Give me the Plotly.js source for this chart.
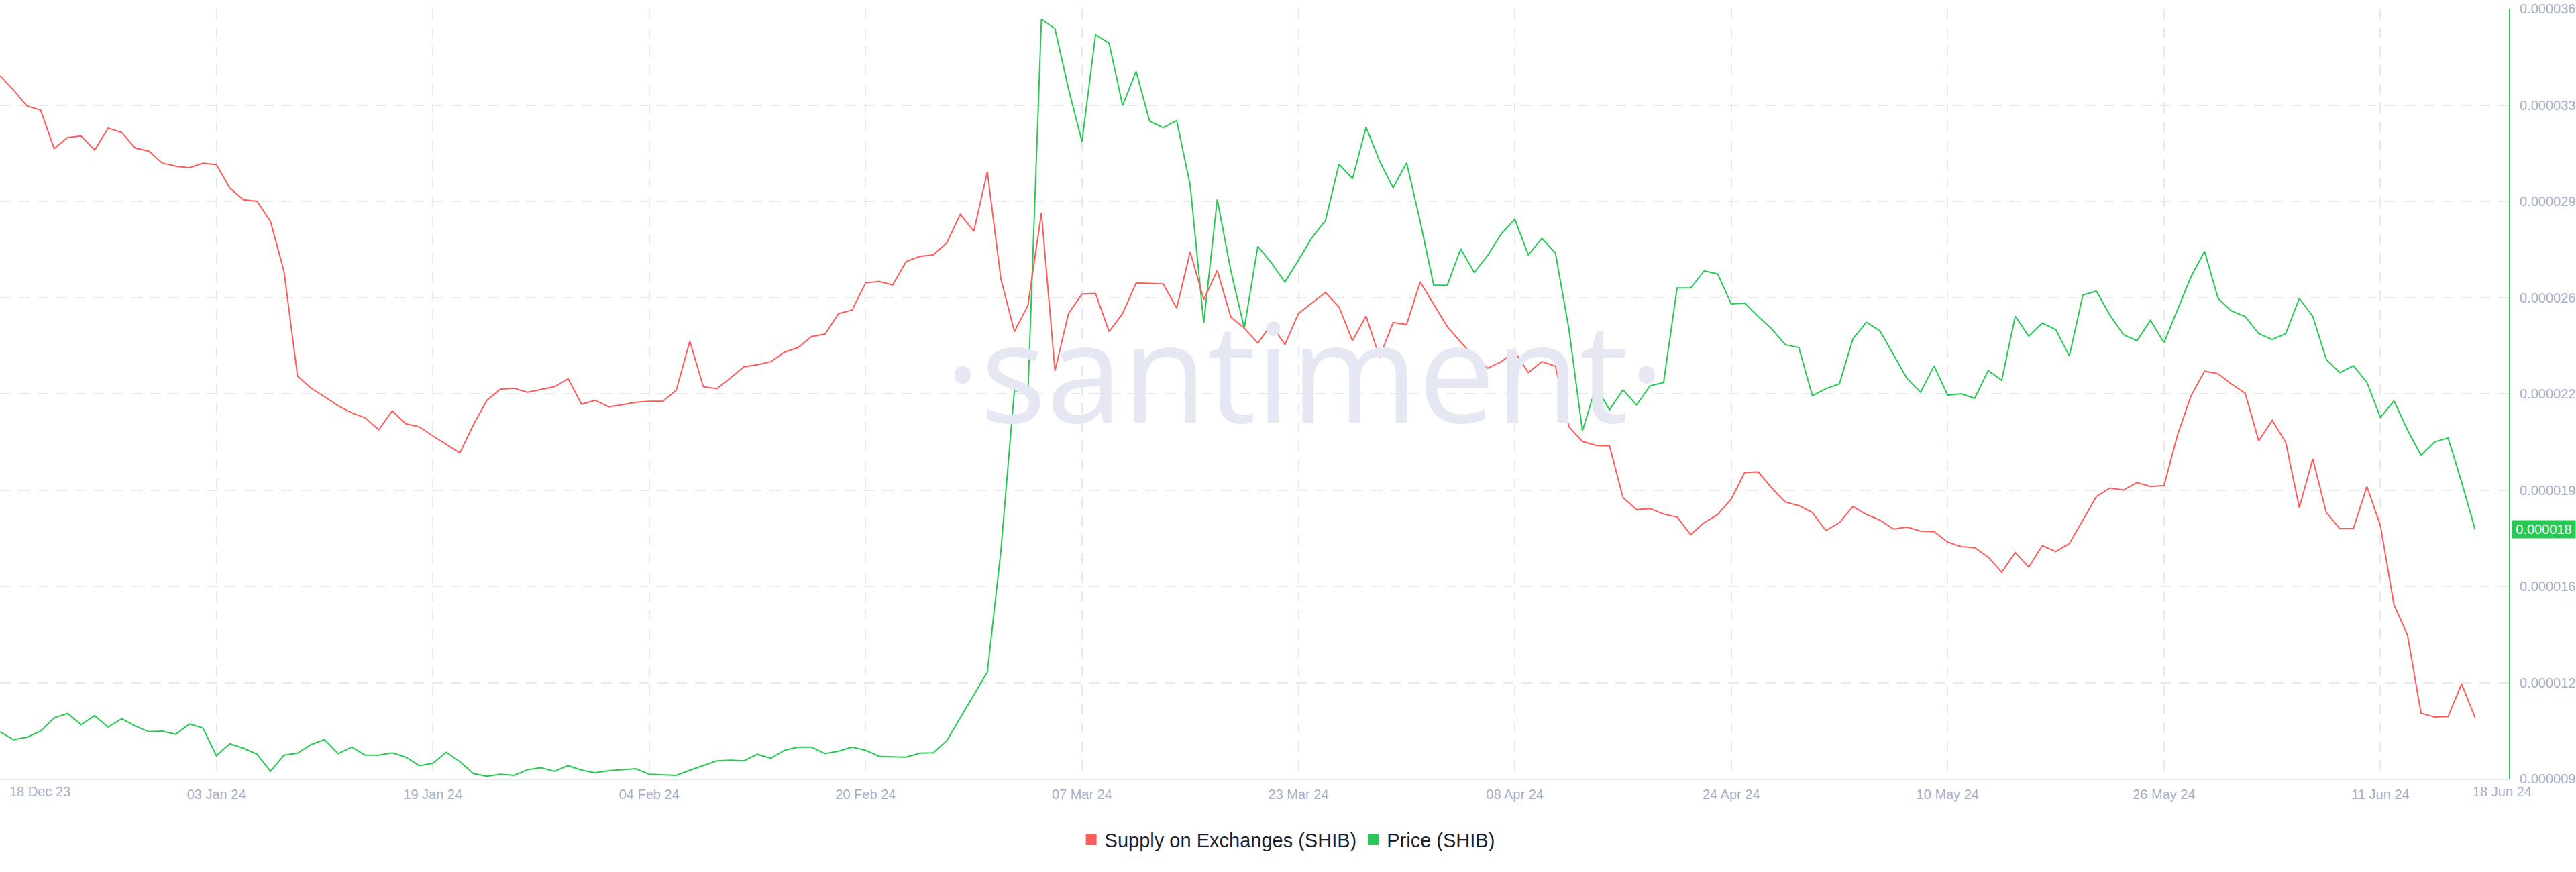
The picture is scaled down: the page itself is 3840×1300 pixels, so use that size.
<!DOCTYPE html>
<html><head><meta charset="utf-8">
<script src="https://cdn.plot.ly/plotly-3.0.1.min.js"></script>
<style>html,body{margin:0;padding:0;background:#fff;}#chart{width:3840px;height:1300px;}</style>
</head><body><div id="chart"></div>
<script>
// ---- data (daily, starting 18 Dec 2023) ----
const startDate = '2023-12-18';
const seriesNames = ['Supply on Exchanges (SHIB)', 'Price (SHIB)'];
const seriesColors = ['#ff5b5b', '#26c953'];

// Supply on Exchanges (hidden left axis, arbitrary units)
const supplyOnExchanges = [
156.08,154.96,153.68,153.36,150.28,151.16,151.28,150.16,151.92,151.56,
150.32,150.08,149.12,148.88,148.76,149.12,149.00,147.12,146.20,146.08,
144.48,140.48,132.12,131.16,130.48,129.76,129.20,128.80,127.84,129.36,
128.32,128.08,127.36,126.68,126.00,128.24,130.20,131.08,131.16,130.84,
131.08,131.28,131.92,129.88,130.20,129.68,129.84,130.04,130.12,130.12,
131.00,134.92,131.28,131.12,131.96,132.88,133.04,133.28,134.04,134.40,
135.28,135.48,137.12,137.40,139.56,139.68,139.40,141.28,141.68,141.80,
142.76,145.04,143.68,148.44,139.88,135.68,137.76,145.16,132.56,137.12,
138.68,138.72,135.68,137.12,139.56,139.52,139.48,137.56,142.04,138.24,
140.56,136.84,135.96,134.76,136.24,134.64,137.12,137.96,138.80,137.64,
134.96,136.92,133.64,136.40,136.24,139.64,137.88,136.08,134.84,133.64,
132.76,133.28,134.08,132.40,133.28,132.92,128.08,126.92,126.60,126.56,
122.44,121.48,121.56,121.12,120.88,119.48,120.44,121.08,122.32,124.44,
124.48,123.20,122.08,121.80,121.24,119.80,120.44,121.72,121.08,120.64,
119.92,120.08,119.76,119.72,118.88,118.52,118.44,117.68,116.48,118.04,
116.88,118.60,118.12,118.76,120.64,122.52,123.20,123.04,123.64,123.32,
123.40,127.44,130.56,132.52,132.32,131.48,130.76,126.96,128.60,126.84,
121.64,125.52,121.24,119.96,119.96,123.32,120.20,113.88,111.48,105.24,
104.92,104.96,107.56,104.88
];

// Price (SHIB, USD)
const priceSHIB = [
10.65e-6,10.37e-6,10.46e-6,10.67e-6,11.14e-6,11.29e-6,10.90e-6,11.21e-6,10.81e-6,11.11e-6,
10.85e-6,10.65e-6,10.67e-6,10.56e-6,10.92e-6,10.78e-6,9.81e-6,10.23e-6,10.07e-6,9.86e-6,
9.26e-6,9.83e-6,9.90e-6,10.20e-6,10.37e-6,9.88e-6,10.11e-6,9.83e-6,9.83e-6,9.91e-6,
9.76e-6,9.46e-6,9.54e-6,9.93e-6,9.60e-6,9.18e-6,9.09e-6,9.16e-6,9.12e-6,9.32e-6,
9.39e-6,9.26e-6,9.46e-6,9.30e-6,9.21e-6,9.28e-6,9.32e-6,9.35e-6,9.16e-6,9.14e-6,
9.12e-6,9.30e-6,9.47e-6,9.63e-6,9.65e-6,9.63e-6,9.86e-6,9.72e-6,10.00e-6,10.11e-6,
10.11e-6,9.88e-6,9.97e-6,10.11e-6,10.00e-6,9.79e-6,9.77e-6,9.76e-6,9.90e-6,9.91e-6,
10.34e-6,11.14e-6,11.94e-6,12.74e-6,16.98e-6,22.62e-6,22.52e-6,35.63e-6,35.30e-6,33.19e-6,
31.34e-6,35.09e-6,34.79e-6,32.61e-6,33.80e-6,32.06e-6,31.83e-6,32.08e-6,29.81e-6,24.98e-6,
29.32e-6,26.82e-6,24.80e-6,27.67e-6,27.09e-6,26.42e-6,27.18e-6,27.97e-6,28.58e-6,30.55e-6,
30.04e-6,31.85e-6,30.66e-6,29.72e-6,30.60e-6,28.55e-6,26.31e-6,26.30e-6,27.58e-6,26.75e-6,
27.35e-6,28.11e-6,28.62e-6,27.37e-6,27.95e-6,27.44e-6,24.77e-6,21.20e-6,22.75e-6,21.94e-6,
22.64e-6,22.11e-6,22.78e-6,22.89e-6,26.21e-6,26.21e-6,26.81e-6,26.70e-6,25.65e-6,25.68e-6,
25.21e-6,24.77e-6,24.22e-6,24.12e-6,22.43e-6,22.68e-6,22.85e-6,24.43e-6,25.01e-6,24.70e-6,
23.87e-6,23.03e-6,22.55e-6,23.48e-6,22.45e-6,22.50e-6,22.34e-6,23.31e-6,22.97e-6,25.22e-6,
24.52e-6,24.98e-6,24.75e-6,23.82e-6,25.96e-6,26.10e-6,25.26e-6,24.57e-6,24.36e-6,25.07e-6,
24.29e-6,25.47e-6,26.61e-6,27.49e-6,25.84e-6,25.40e-6,25.21e-6,24.61e-6,24.40e-6,24.61e-6,
25.84e-6,25.21e-6,23.70e-6,23.24e-6,23.48e-6,22.90e-6,21.67e-6,22.25e-6,21.23e-6,20.34e-6,
20.81e-6,20.95e-6,19.41e-6,17.74e-6
];

// axis ticks
const xTickDates = ['2023-12-18','2024-01-03','2024-01-19','2024-02-04','2024-02-20','2024-03-07',
  '2024-03-23','2024-04-08','2024-04-24','2024-05-10','2024-05-26','2024-06-11'];
const xTickLabels = ['','03 Jan 24','19 Jan 24','04 Feb 24','20 Feb 24','07 Mar 24',
  '23 Mar 24','08 Apr 24','24 Apr 24','10 May 24','26 May 24','11 Jun 24'];
const firstDateLabel = '18 Dec 23';
const lastDateLabel = '18 Jun 24';
const yTickVals = [9e-6, 12.375e-6, 15.75e-6, 19.125e-6, 22.5e-6, 25.875e-6, 29.25e-6, 32.625e-6, 36e-6];
const yTickLabels = ['0.000009','0.000012','0.000016','0.000019','0.000022','0.000026','0.000029','0.000033','0.000036'];
const priceRange = [9e-6, 36e-6];
const supplyRange = [100, 161.44];
const xRange = ['2023-12-18', '2024-06-20 12:00'];

// ---- styles ----
const FONT = 'Liberation Sans, Arial, sans-serif';
const tickColor = '#a6aec8';
const gridColor = '#e7e9f2';
const DAY = 86400000;

const traces = [
  {type:'scatter', mode:'lines', name:seriesNames[0], x0:startDate, dx:DAY, y:supplyOnExchanges,
   yaxis:'y2', line:{color:seriesColors[0], width:2}, showlegend:false, hoverinfo:'skip'},
  {type:'scatter', mode:'lines', name:seriesNames[1], x0:startDate, dx:DAY, y:priceSHIB,
   yaxis:'y', line:{color:seriesColors[1], width:2}, showlegend:false, hoverinfo:'skip'},
  {type:'scatter', mode:'markers', name:seriesNames[0], x:[null], y:[null],
   marker:{symbol:'square', size:18, color:seriesColors[0]}, showlegend:true},
  {type:'scatter', mode:'markers', name:seriesNames[1], x:[null], y:[null],
   marker:{symbol:'square', size:18, color:seriesColors[1]}, showlegend:true}
];

const lastPrice = priceSHIB[priceSHIB.length - 1];

const layout = {
  width:3840, height:1300,
  margin:{l:0, r:100, t:13, b:139, autoexpand:false},
  paper_bgcolor:'#ffffff', plot_bgcolor:'#ffffff',
  font:{family:FONT, color:tickColor, size:20},
  showlegend:true,
  legend:{orientation:'h', x:0.5134, xanchor:'center', y:-0.0795, yanchor:'middle',
    font:{family:FONT, size:29, color:'#1c1f2e'}, bgcolor:'rgba(0,0,0,0)', itemsizing:'trace',
    traceorder:'normal'},
  xaxis:{type:'date', range:xRange, tickmode:'array', tickvals:xTickDates, ticktext:xTickLabels,
    showgrid:true, gridcolor:gridColor, gridwidth:2, griddash:'16px,12px',
    showline:true, linecolor:'#e3e6ef', linewidth:2, ticks:'', zeroline:false,
    tickfont:{family:FONT, size:20, color:tickColor}, ticklabelstandoff:4, automargin:false, fixedrange:true},
  yaxis:{side:'right', range:priceRange, tickmode:'array', tickvals:yTickVals, ticktext:yTickLabels,
    showgrid:true, gridcolor:gridColor, gridwidth:2, griddash:'16px,12px',
    showline:true, linecolor:seriesColors[1], linewidth:2, ticks:'', zeroline:false,
    tickfont:{family:FONT, size:20, color:tickColor}, ticklabelstandoff:10, automargin:false, fixedrange:true},
  yaxis2:{overlaying:'y', side:'left', range:supplyRange, visible:false, showgrid:false, zeroline:false, fixedrange:true},
  annotations:[
    {text:'\u00B7santiment\u00B7', xref:'paper', yref:'paper', x:0.52, y:0.532, xanchor:'center', yanchor:'middle',
     showarrow:false, font:{family:'Open Sans, sans-serif', size:205, color:'#e5e8f2'}},
    {text:firstDateLabel, xref:'paper', yref:'paper', x:0, y:0, xanchor:'left', yanchor:'top', xshift:12, yshift:-6,
     showarrow:false, font:{family:FONT, size:20, color:tickColor}},
    {text:lastDateLabel, xref:'paper', yref:'paper', x:3730/3740, y:0, xanchor:'center', yanchor:'top', yshift:-6,
     showarrow:false, font:{family:FONT, size:20, color:tickColor}},
    {text:lastPrice.toFixed(6), xref:'paper', yref:'y', x:1, y:lastPrice, xanchor:'left', yanchor:'middle', xshift:4,
     showarrow:false, bgcolor:seriesColors[1], borderpad:2, width:90,
     font:{family:FONT, size:20, color:'#ffffff'}}
  ]
};

Plotly.newPlot('chart', traces, layout, {staticPlot:true, displayModeBar:false});
</script>
</body></html>
